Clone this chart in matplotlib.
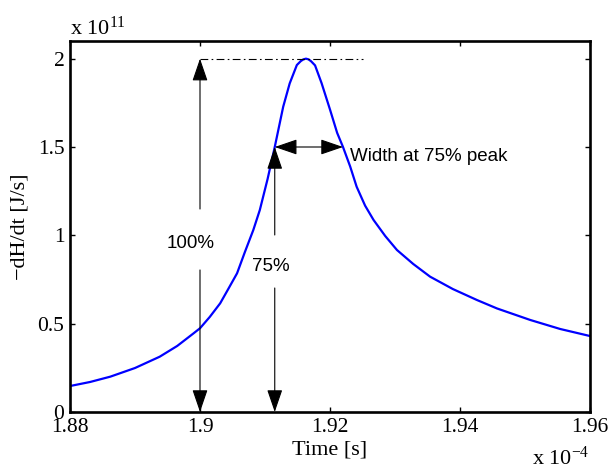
import matplotlib
matplotlib.use("Agg")
import matplotlib.pyplot as plt

plt.rcParams['font.family'] = ['Liberation Serif', 'DejaVu Serif']
plt.rcParams['mathtext.fontset'] = 'custom'
plt.rcParams['mathtext.rm'] = 'Liberation Serif'

# time in units of 1e-4 s, heat rate in units of 1e11 J/s
time_e4 = [1.8800, 1.8831, 1.8862, 1.8900, 1.8938, 1.8965, 1.8990, 1.9000,
           1.9015, 1.9031, 1.9043, 1.9057, 1.9069, 1.9082, 1.9092, 1.9104,
           1.9115, 1.9128, 1.9138, 1.9149, 1.9155, 1.9159, 1.9163, 1.9167,
           1.9171, 1.9177, 1.9187, 1.9200, 1.9211, 1.9220, 1.9231, 1.9241,
           1.9254, 1.9267, 1.9285, 1.9303, 1.9328, 1.9354, 1.9389, 1.9426,
           1.9457, 1.9508, 1.9554, 1.9600]
dHdt_e11 = [0.147, 0.170, 0.200, 0.249, 0.313, 0.374, 0.445, 0.474,
            0.538, 0.615, 0.693, 0.785, 0.905, 1.030, 1.143, 1.319,
            1.500, 1.728, 1.860, 1.964, 1.986, 1.996, 2.000, 1.996,
            1.985, 1.962, 1.862, 1.712, 1.580, 1.500, 1.390, 1.275,
            1.168, 1.087, 0.996, 0.917, 0.838, 0.766, 0.696, 0.634,
            0.586, 0.521, 0.470, 0.430]

x_ticks = [1.88, 1.90, 1.92, 1.94, 1.96]
x_ticklabels = ["1.88", "1.9", "1.92", "1.94", "1.96"]
y_ticks = [0, 0.5, 1, 1.5, 2]
y_ticklabels = ["0", "0.5", "1", "1.5", "2"]

# annotation values
peak = 2.0
level75 = 1.5
t_full = 1.90
t_left75 = 1.9115
t_right75 = 1.9220
t_dash_end = 1.925

fig = plt.figure(figsize=(6.13, 4.70), dpi=100)
ax = fig.add_axes([70/613, 1-412/470, 520/613, 371/470])

ax.plot(time_e4, dHdt_e11, color=(0, 0, 1), lw=1.6, solid_joinstyle='round')
ax.set_xlim(1.88, 1.96)
ax.set_ylim(0, 2.1)

ax.set_xticks(x_ticks)
ax.set_xticklabels(x_ticklabels)
ax.set_yticks(y_ticks)
ax.set_yticklabels(y_ticklabels)
ax.tick_params(direction='in', length=3.5, width=1.0, labelsize=15.5,
               top=True, right=True, pad=4)
for s in ax.spines.values():
    s.set_linewidth(1.9)

ax.set_xlabel("Time [s]", fontsize=16, labelpad=3)
ax.set_ylabel("\u2212dH/dt [J/s]", fontsize=16, labelpad=6)

# dash-dot line at the peak
ax.plot([t_full, t_dash_end], [peak, peak], color='k', lw=0.8, ls=(0, (7, 3, 1.5, 3)))

arrow = dict(arrowstyle='-|>,head_length=0.7,head_width=0.24', lw=0.8, color='k',
             shrinkA=0, shrinkB=0, mutation_scale=20)
arrow2 = dict(arrowstyle='<|-|>,head_length=0.7,head_width=0.24', lw=0.8, color='k',
              shrinkA=0, shrinkB=0, mutation_scale=20)

# 100% arrows
ax.annotate('', xy=(t_full, peak), xytext=(t_full, 1.149), arrowprops=arrow)
ax.annotate('', xy=(t_full, 0), xytext=(t_full, 0.804), arrowprops=arrow)
ax.text(1.8985, 0.956, "100%", fontsize=13.5, family=['Liberation Sans', 'DejaVu Sans'],
        ha='center', va='center')

# 75% arrows
ax.annotate('', xy=(t_left75, level75), xytext=(t_left75, 1.002), arrowprops=arrow)
ax.annotate('', xy=(t_left75, 0), xytext=(t_left75, 0.702), arrowprops=arrow)
ax.text(1.9109, 0.826, "75%", fontsize=13.5, family=['Liberation Sans', 'DejaVu Sans'],
        ha='center', va='center')

# width arrow
ax.annotate('', xy=(t_right75, level75), xytext=(t_left75, level75), arrowprops=arrow2)
ax.text(1.9231, 1.445, "Width at 75% peak", fontsize=13.5,
        family=['Liberation Sans', 'DejaVu Sans'], ha='left', va='center')

# axis multipliers
fig.text(70/613, 1-35/470, r"x $\mathregular{10^{11}}$", fontsize=16, va='baseline')
fig.text(532/613, 5/470, r"x $\mathregular{10^{-4}}$", fontsize=16, va='baseline')

fig.savefig("out.png", dpi=100)
